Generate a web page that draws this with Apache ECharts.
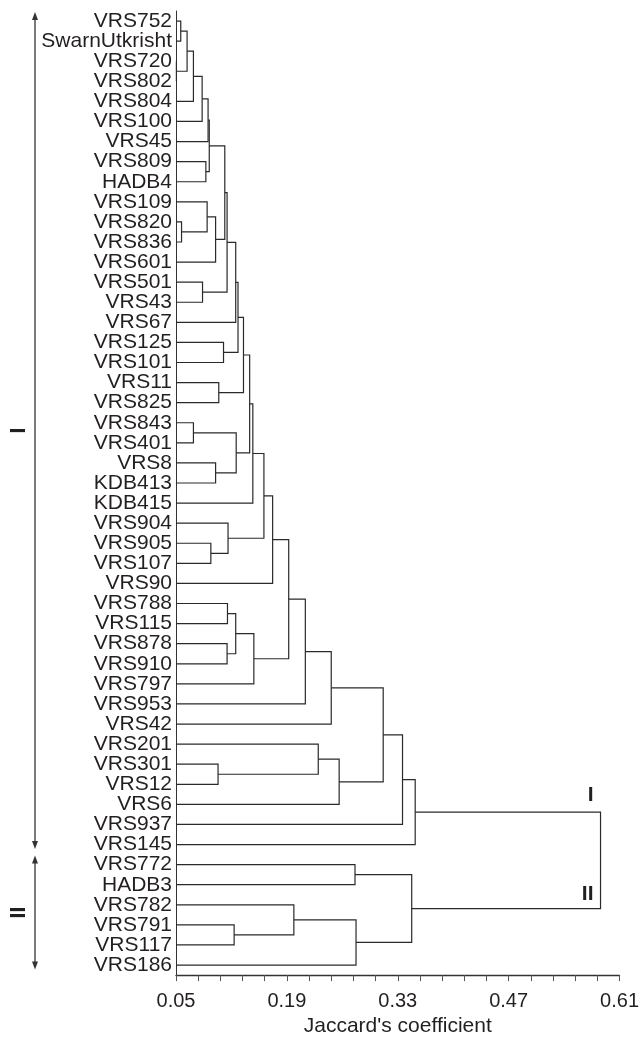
<!DOCTYPE html>
<html>
<head>
<meta charset="utf-8">
<title>Jaccard dendrogram</title>
<script src="https://cdn.jsdelivr.net/npm/echarts@6/dist/echarts.min.js"></script>
<style>
    html, body { margin: 0; padding: 0; background: #fff; }
    #dendro { width: 642px; height: 1042px; }
</style>
</head>
<body>
<div id="dendro"></div>
<script>

// genotypes, top to bottom
var leaves = [
    'VRS752', 'SwarnUtkrisht', 'VRS720', 'VRS802', 'VRS804', 'VRS100', 'VRS45', 'VRS809',
    'HADB4', 'VRS109', 'VRS820', 'VRS836', 'VRS601', 'VRS501', 'VRS43', 'VRS67',
    'VRS125', 'VRS101', 'VRS11', 'VRS825', 'VRS843', 'VRS401', 'VRS8', 'KDB413',
    'KDB415', 'VRS904', 'VRS905', 'VRS107', 'VRS90', 'VRS788', 'VRS115', 'VRS878',
    'VRS910', 'VRS797', 'VRS953', 'VRS42', 'VRS201', 'VRS301', 'VRS12', 'VRS6',
    'VRS937', 'VRS145', 'VRS772', 'HADB3', 'VRS782', 'VRS791', 'VRS117', 'VRS186'
];

// [child a, child b, Jaccard level]; index < 48 is a leaf, otherwise merge number (index - 48)
var merges = [
    [0, 1, 0.056], [2, 3, 0.0505], [48, 49, 0.064], [50, 4, 0.072],
    [51, 5, 0.083], [52, 6, 0.0905], [7, 8, 0.0877], [53, 54, 0.092],
    [10, 11, 0.057], [9, 56, 0.0893], [57, 12, 0.100], [55, 58, 0.1116],
    [13, 14, 0.0835], [59, 60, 0.1145], [61, 15, 0.1254], [16, 17, 0.110],
    [62, 63, 0.1283], [18, 19, 0.104], [64, 65, 0.1352], [20, 21, 0.072],
    [22, 23, 0.100], [67, 68, 0.126], [66, 69, 0.143], [70, 24, 0.147],
    [26, 27, 0.094], [25, 72, 0.1157], [71, 73, 0.161], [74, 28, 0.172],
    [29, 30, 0.115], [31, 32, 0.1145], [76, 77, 0.1254], [78, 33, 0.1483],
    [75, 79, 0.1923], [80, 34, 0.2133], [81, 35, 0.246], [37, 38, 0.1031],
    [36, 83, 0.2296], [84, 39, 0.256], [82, 85, 0.3116], [86, 40, 0.336],
    [87, 41, 0.352], [42, 43, 0.276], [45, 46, 0.1234], [44, 90, 0.1988],
    [91, 47, 0.2773], [89, 92, 0.3476], [88, 93, 0.586]
];

var groupNames = ['I', 'II'];
var groupFirst = [0, 42];
var groupLast = [41, 47];

var axisStart = 0.05;
var axisEnd = 0.61;
var axisStep = 0.14;

// x is plotted as (level - axisStart) so that ticks start at 0.05
var nodeY = leaves.map(function (name, i) { return i; });
var nodeLevel = leaves.map(function () { return axisStart; });
var links = [];
merges.forEach(function (m) {
    var a = m[0], b = m[1];
    links.push([nodeLevel[a] - axisStart, nodeY[a], nodeLevel[b] - axisStart, nodeY[b], m[2] - axisStart]);
    nodeY.push((nodeY[a] + nodeY[b]) / 2);
    nodeLevel.push(m[2]);
});

var ink = '#231f20';
var font = 'Liberation Sans';

function renderLink(params, api) {
    var p1 = api.coord([api.value(0), api.value(1)]);
    var p2 = api.coord([api.value(4), api.value(1)]);
    var p3 = api.coord([api.value(4), api.value(3)]);
    var p4 = api.coord([api.value(2), api.value(3)]);
    return {
        type: 'polyline',
        shape: { points: [p1, p2, p3, p4] },
        style: { fill: null, stroke: '#2a2a2a', lineWidth: 1.2 }
    };
}

var option = {
    animation: false,
    textStyle: { fontFamily: font },
    grid: { left: 176, right: 22, top: 11, bottom: 59 },
    xAxis: {
        type: 'value',
        min: 0,
        max: axisEnd - axisStart,
        interval: axisStep,
        name: "Jaccard's coefficient",
        nameLocation: 'middle',
        nameGap: 37,
        nameTextStyle: { color: ink, fontSize: 21, fontFamily: font },
        axisLine: { onZero: false, lineStyle: { color: '#333', width: 1.3 } },
        axisTick: { length: 6, lineStyle: { color: '#555' } },
        minorTick: { show: true, splitNumber: 5, length: 6, lineStyle: { color: '#555' } },
        splitLine: { show: false },
        axisLabel: {
            color: ink, fontSize: 20, fontFamily: font, margin: 16,
            formatter: function (v) { return (v + axisStart).toFixed(2); }
        }
    },
    yAxis: [{
        type: 'category',
        data: leaves,
        inverse: true,
        axisLine: { lineStyle: { color: '#333', width: 1 } },
        axisTick: { show: false },
        axisLabel: { color: ink, fontSize: 21, fontFamily: font, margin: 4, interval: 0 }
    }, {
        type: 'value',
        show: false,
        inverse: true,
        min: -0.5,
        max: leaves.length - 0.5,
        splitLine: { show: false }
    }],
    series: [{
        type: 'custom',
        name: 'Jaccard links',
        coordinateSystem: 'cartesian2d',
        xAxisIndex: 0,
        yAxisIndex: 1,
        silent: true,
        renderItem: renderLink,
        encode: { x: [0, 2, 4], y: [1, 3] },
        data: links
    }]
};

var chart = echarts.init(document.getElementById('dendro'));
chart.setOption(option);

// cluster brackets on the left and labels at the root
function toPx(level, row) {
    return chart.convertToPixel({ xAxisIndex: 0, yAxisIndex: 1 }, [level - axisStart, row]);
}

var graphics = [];
var arrowX = 35;
groupNames.forEach(function (name, g) {
    var top = toPx(axisStart, groupFirst[g] - 0.45)[1];
    var bottom = toPx(axisStart, groupLast[g] + 0.22)[1];
    graphics.push({
        type: 'line',
        shape: { x1: arrowX, y1: top + 4, x2: arrowX, y2: bottom - 4 },
        style: { stroke: '#333', lineWidth: 1.3 }
    });
    graphics.push({
        type: 'polygon',
        shape: { points: [[arrowX, top], [arrowX - 3, top + 8], [arrowX + 3, top + 8]] },
        style: { fill: '#333' }
    });
    graphics.push({
        type: 'polygon',
        shape: { points: [[arrowX, bottom], [arrowX - 3, bottom - 8], [arrowX + 3, bottom - 8]] },
        style: { fill: '#333' }
    });
    graphics.push({
        type: 'text',
        x: 16,
        y: (top + bottom) / 2,
        rotation: -Math.PI / 2,
        style: {
            text: name, fill: ink, font: 'bold 22px "Liberation Sans"',
            align: 'center', verticalAlign: 'middle'
        }
    });
});

var root = merges[merges.length - 1];
[root[0], root[1]].forEach(function (child, g) {
    var p = toPx(root[2], nodeY[child]);
    graphics.push({
        type: 'text',
        x: p[0] - 7,
        y: p[1] - (g === 0 ? 17 : 14),
        style: {
            text: groupNames[g], fill: ink, font: 'bold 21px "Liberation Sans"',
            align: 'right', verticalAlign: 'middle'
        }
    });
});

chart.setOption({ graphic: graphics });
</script>
</body>
</html>
